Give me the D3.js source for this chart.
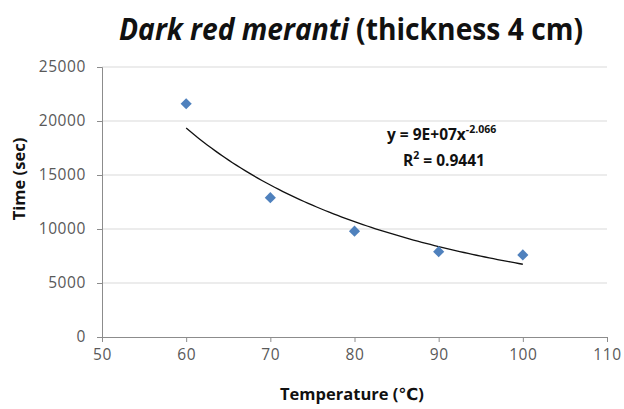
<!DOCTYPE html>
<html>
<head>
<meta charset="utf-8">
<script src="https://cdn.jsdelivr.net/npm/d3@7"></script>
<style>
  html, body { margin: 0; padding: 0; background: #fff; }
  svg { display: block; }
  text { font-family: "Open Sans", "DejaVu Sans", sans-serif; }
</style>
</head>
<body>
<svg id="chart" width="624" height="409"></svg>
<script>
// Drying time vs. temperature, dark red meranti, 4 cm boards
const temperatures = [60, 70, 80, 90, 100];
const dryingTimes = [21600, 12900, 9800, 7900, 7600];
const xTicks = [50, 60, 70, 80, 90, 100, 110];
const yTicks = [0, 5000, 10000, 15000, 20000, 25000];
const equationText = "y = 9E+07x";
const exponentText = "-2.066";
const rSquaredText = "0.9441";

const svg = d3.select("#chart");
const plot = { left: 102, right: 607, top: 67, bottom: 337 };

const x = d3.scaleLinear().domain([50, 110]).range([plot.left, plot.right]);
const y = d3.scaleLinear().domain([0, 25000]).range([plot.bottom, plot.top]);

// Power-law trend fitted by least squares in log–log space
const lx = temperatures.map(Math.log), ly = dryingTimes.map(Math.log);
const mx = d3.mean(lx), my = d3.mean(ly);
const sxy = d3.sum(lx, (v, i) => (v - mx) * (ly[i] - my));
const sxx = d3.sum(lx, v => (v - mx) ** 2);
const b = sxy / sxx;
const a = Math.exp(my - b * mx);
const trend = t => a * Math.pow(t, b);

// Horizontal gridlines
svg.append("g")
  .selectAll("line")
  .data(yTicks.filter(d => d > 0))
  .join("line")
  .attr("x1", plot.left).attr("x2", plot.right)
  .attr("y1", d => y(d)).attr("y2", d => y(d))
  .attr("stroke", "#d9d9d9").attr("stroke-width", 1);

// Axes
const axisColor = "#8c8c8c";
const labelColor = "#595959";

const yAxis = svg.append("g")
  .attr("transform", `translate(${plot.left},0)`)
  .call(d3.axisLeft(y).tickValues(yTicks).tickSize(5).tickPadding(11).tickFormat(d3.format("d")));
const xAxis = svg.append("g")
  .attr("transform", `translate(0,${plot.bottom})`)
  .call(d3.axisBottom(x).tickValues(xTicks).tickSize(5).tickPadding(7).tickFormat(d3.format("d")));

[xAxis, yAxis].forEach(g => {
  g.select(".domain").attr("stroke", axisColor);
  g.selectAll(".tick line").attr("stroke", axisColor);
  g.selectAll(".tick text")
    .attr("fill", labelColor)
    .style("font-size", "15.5px")
    .style("letter-spacing", "0.6px")
    .style("font-family", "'Open Sans', sans-serif");
});

// Trend line
const tSamples = d3.range(60, 100.01, 0.5);
svg.append("path")
  .datum(tSamples)
  .attr("fill", "none")
  .attr("stroke", "#111")
  .attr("stroke-width", 1.3)
  .attr("d", d3.line().x(t => x(t)).y(t => y(trend(t))));

// Data markers (diamonds)
svg.append("g")
  .selectAll("path")
  .data(temperatures)
  .join("path")
  .attr("transform", (d, i) => `translate(${x(d)},${y(dryingTimes[i])}) rotate(45)`)
  .attr("d", d3.symbol().type(d3.symbolSquare).size(62))
  .attr("fill", "#4f81bd");

// Title
const title = svg.append("text")
  .attr("x", 351).attr("y", 40)
  .attr("text-anchor", "middle")
  .attr("fill", "#111")
  .style("font-size", "31px")
  .style("font-weight", "bold")
  .attr("textLength", 464)
  .attr("lengthAdjust", "spacingAndGlyphs");
title.append("tspan").style("font-style", "italic").text("Dark red meranti");
title.append("tspan").text(" (thickness 4 cm)");

// Axis titles
svg.append("text")
  .attr("x", 352).attr("y", 400)
  .attr("text-anchor", "middle")
  .attr("fill", "#111")
  .style("font-size", "16.5px").style("font-weight", "bold")
  .text("Temperature (℃)");

svg.append("text")
  .attr("transform", "translate(25,179) rotate(-90)")
  .attr("text-anchor", "middle")
  .attr("fill", "#111")
  .style("font-size", "16.5px").style("font-weight", "bold")
  .text("Time (sec)");

// Trendline equation and R²
const eq = svg.append("text")
  .attr("x", 387).attr("y", 140)
  .attr("fill", "#111")
  .style("font-size", "15.5px").style("font-weight", "bold");
eq.append("tspan").text(equationText);
eq.append("tspan").attr("dy", -7).style("font-size", "10.5px").text(exponentText);

const r2 = svg.append("text")
  .attr("x", 403).attr("y", 166)
  .attr("fill", "#111")
  .style("font-size", "15.5px").style("font-weight", "bold");
r2.append("tspan").text("R");
r2.append("tspan").attr("dy", -7).style("font-size", "10.5px").text("2");
r2.append("tspan").attr("dy", 7).text(" = " + rSquaredText);
</script>
</body>
</html>
